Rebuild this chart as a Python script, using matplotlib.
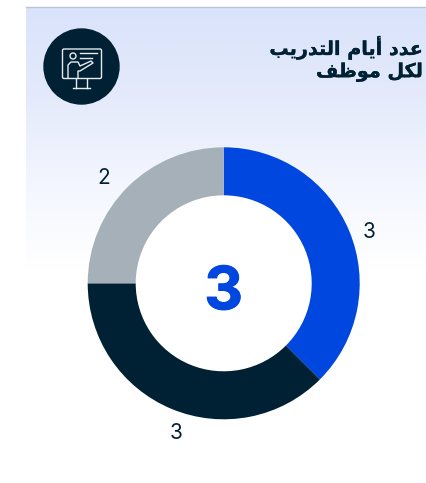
import numpy as np
import matplotlib
matplotlib.use("Agg")
from matplotlib import pyplot as plt
from matplotlib import patheffects as pe
from matplotlib.colors import LinearSegmentedColormap
from matplotlib.patches import Circle, FancyBboxPatch

W, H = 427, 483

# chart data
values = [3, 3, 2]
value_labels = ["3", "3", "2"]
colors = ["#0047E0", "#002033", "#A6B0B8"]
center_value = "3"
title_lines = ["عدد أيام التدريب", "لكل موظف"]

# isolated, final, initial, medial
FORMS = {
    "ع": "\uFEC9\uFECA\uFECB\uFECC", "د": "\uFEA9\uFEAA", "أ": "\uFE83\uFE84",
    "ي": "\uFEF1\uFEF2\uFEF3\uFEF4", "ا": "\uFE8D\uFE8E", "م": "\uFEE1\uFEE2\uFEE3\uFEE4",
    "ل": "\uFEDD\uFEDE\uFEDF\uFEE0", "ت": "\uFE95\uFE96\uFE97\uFE98", "ر": "\uFEAD\uFEAE",
    "ب": "\uFE8F\uFE90\uFE91\uFE92", "ك": "\uFED9\uFEDA\uFEDB\uFEDC", "و": "\uFEED\uFEEE",
    "ظ": "\uFEC5\uFEC6\uFEC7\uFEC8", "ف": "\uFED1\uFED2\uFED3\uFED4",
}


def shape_arabic(s: str):
    """matplotlib has no shaping, so pick the joined forms and reverse the line."""
    out = []
    for i, c in enumerate(s):
        if c not in FORMS:
            out.append(c)
            continue
        prev_joins = i > 0 and s[i-1] in FORMS and len(FORMS[s[i-1]]) == 4
        next_joins = i < len(s) - 1 and s[i+1] in FORMS
        can_join_next = len(FORMS[c]) == 4
        if prev_joins and next_joins and can_join_next:
            out.append(FORMS[c][3])
        elif prev_joins:
            out.append(FORMS[c][1])
        elif next_joins and can_join_next:
            out.append(FORMS[c][2])
        else:
            out.append(FORMS[c][0])
    return "".join(reversed(out))


fig = plt.figure(figsize=(W / 100, H / 100), dpi=100, facecolor="white")

# background in pixel coordinates
bg = fig.add_axes([0, 0, 1, 1])
grad = LinearSegmentedColormap.from_list("panel", ["#D9E3FB", "#E4EAFB", "#F3F6FE", "#FFFFFF"])
bg.imshow(np.linspace(0, 1, 256).reshape(-1, 1), cmap=grad, aspect="auto",
          extent=[26, W, 270, 7], zorder=0)
bg.set_xlim(0, W)
bg.set_ylim(H, 0)
bg.axis("off")
bg.plot([26, W], [6.5, 6.5], color="#B9C4DA", lw=1, zorder=1)

# icon
ink = "#E6EBEF"
bg.add_patch(Circle((81.5, 66.5), 37.5, color="#002033", zorder=2))
bg.add_patch(FancyBboxPatch((62.5, 49), 39, 29.5, boxstyle="round,pad=0,rounding_size=1.5",
                            fill=False, ec=ink, lw=1, zorder=3))
bg.add_patch(Circle((73, 56), 3, fill=False, ec=ink, lw=1, zorder=3))
bg.plot([80, 97], [53, 53], color=ink, lw=1, zorder=3)
bg.plot([80, 92], [57.5, 57.5], color=ink, lw=1, zorder=3)
bg.plot([68, 68, 71, 78, 80, 91, 93, 80, 78, 78], [78, 65, 62, 62, 66, 61, 63, 71, 71, 78],
        color=ink, lw=1, zorder=3)
bg.plot([76.5, 76.5], [78.5, 88], color=ink, lw=1, zorder=3)
bg.plot([87, 87], [78.5, 88], color=ink, lw=1, zorder=3)
bg.plot([73, 90], [88, 88], color=ink, lw=1, zorder=3)

# title
heavy = [pe.withStroke(linewidth=0.2, foreground="#002033")]
for line, y in zip(title_lines, [48, 72]):
    bg.text(423, y, shape_arabic(line), ha="right", va="center", fontsize=13.8,
            fontweight="bold", family="DejaVu Sans", color="#002033", zorder=3,
            path_effects=heavy)

# donut
cx, cy, r = 223.7, 283.3, 136
box = 2 * r * 1.3
ax = fig.add_axes([(cx - box / 2) / W, 1 - (cy + box / 2) / H, box / W, box / H])
wedges, texts = ax.pie(values, colors=colors, labels=value_labels, startangle=90,
                       counterclock=False, labeldistance=1.14,
                       wedgeprops=dict(width=48 / 136),
                       textprops=dict(fontsize=15, family="Inter", color="#002033"))
ax.add_patch(Circle((0, 0), 88 / 136, color="white", zorder=0))
ax.set_xlim(-1.3, 1.3)
ax.set_ylim(-1.3, 1.3)
ax.set_aspect("equal")
ax.patch.set_alpha(0)

# nudge labels, in pixels, to where the original puts them
label_nudge = [(2, -8), (12, -6), (-10, -4)]
for t, (dx, dy) in zip(texts, label_nudge):
    x, y = t.get_position()
    t.set_position((x + dx / r, y + dy / r))
    t.set_ha("center")
    t.set_va("center")

ax.text(0, -10.5 / r, center_value, ha="center", va="center", fontsize=43,
        fontweight="bold", family="Inter", color="#0047E0",
        path_effects=[pe.withStroke(linewidth=0.8, foreground="#0047E0")])

fig.savefig("out.png", dpi=100)
